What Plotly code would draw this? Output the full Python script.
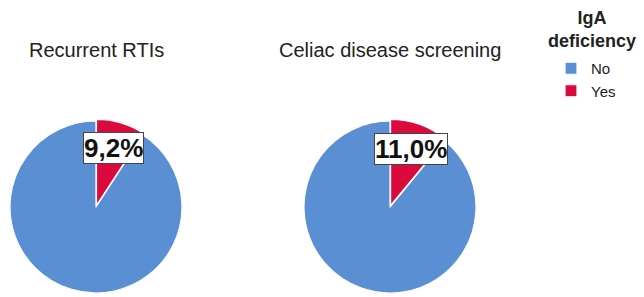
import math
import plotly.graph_objects as go

# ---- data ----
labels = ["No", "Yes"]
legend_title = "IgA<br>deficiency"
panel_titles = ["Recurrent RTIs", "Celiac disease screening"]
no_pct = [90.8, 89.0]
yes_pct = [9.2, 11.0]
colors = ["#5A8FD4", "#DC0A3C"]

# ---- layout geometry (screen pixels; page body has an 8px margin) ----
W, H = 644, 297
OFF = 8
centers = [(96, 207), (390, 207)]
R = 86
PULL = 0.02
FONT = "Liberation Sans, Arial, sans-serif"


def fx(px):
    return min(1, max(0, (px - OFF) / W))


def fy(py):
    return min(1, max(0, 1 - (py - OFF) / H))


fig = go.Figure()
annotations = []
for i, (cx, cy) in enumerate(centers):
    half = R * (1 + PULL)
    dom_x = [fx(cx - half), fx(cx + half)]
    dom_y = [fy(cy + half), fy(cy - half)]
    fig.add_trace(go.Pie(
        labels=labels,
        values=[no_pct[i], yes_pct[i]],
        marker=dict(colors=colors, line=dict(color="white", width=1.2)),
        sort=False,
        direction="clockwise",
        rotation=yes_pct[i] / 100 * 360,
        pull=[0, PULL],
        textinfo="none",
        hoverinfo="label+percent",
        domain=dict(x=dom_x, y=dom_y),
        showlegend=(i == 0),
    ))
    # label for the "Yes" slice, placed along its mid angle
    theta = math.radians(yes_pct[i] / 100 * 360 / 2)
    lx = cx + 0.72 * R * math.sin(theta)
    ly = cy - 0.72 * R * math.cos(theta)
    txt = f"{yes_pct[i]:.1f}".replace(".", ",") + "%"
    annotations.append(dict(
        x=fx(lx), y=fy(ly), xref="paper", yref="paper",
        text=f"<b>{txt}</b>", showarrow=False,
        font=dict(family=FONT, size=26, color="#111111"),
        bgcolor="white", bordercolor="#444444", borderwidth=1, borderpad=0,
        xanchor="center", yanchor="middle",
    ))

for t, (cx, cy) in zip(panel_titles, centers):
    annotations.append(dict(
        x=fx(cx), y=fy(50), xref="paper", yref="paper",
        text=t, showarrow=False,
        font=dict(family=FONT, size=20, color="#222222"),
        xanchor="center", yanchor="middle",
    ))

# legend title
annotations.append(dict(
    x=fx(592), y=fy(29), xref="paper", yref="paper",
    text=f"<b>{legend_title}</b>", showarrow=False, align="center",
    font=dict(family=FONT, size=18, color="#222222"),
    xanchor="center", yanchor="middle",
))

fig.update_layout(
    width=W, height=H,
    margin=dict(l=0, r=0, t=0, b=0, autoexpand=False),
    paper_bgcolor="white", plot_bgcolor="white",
    annotations=annotations,
    legend=dict(
        x=fx(551), xanchor="left", y=fy(52), yanchor="top",
        font=dict(family=FONT, size=15, color="#222222"),
        tracegroupgap=0,
        bgcolor="rgba(0,0,0,0)", itemclick=False,
    ),
)

fig.write_html("out.html")
